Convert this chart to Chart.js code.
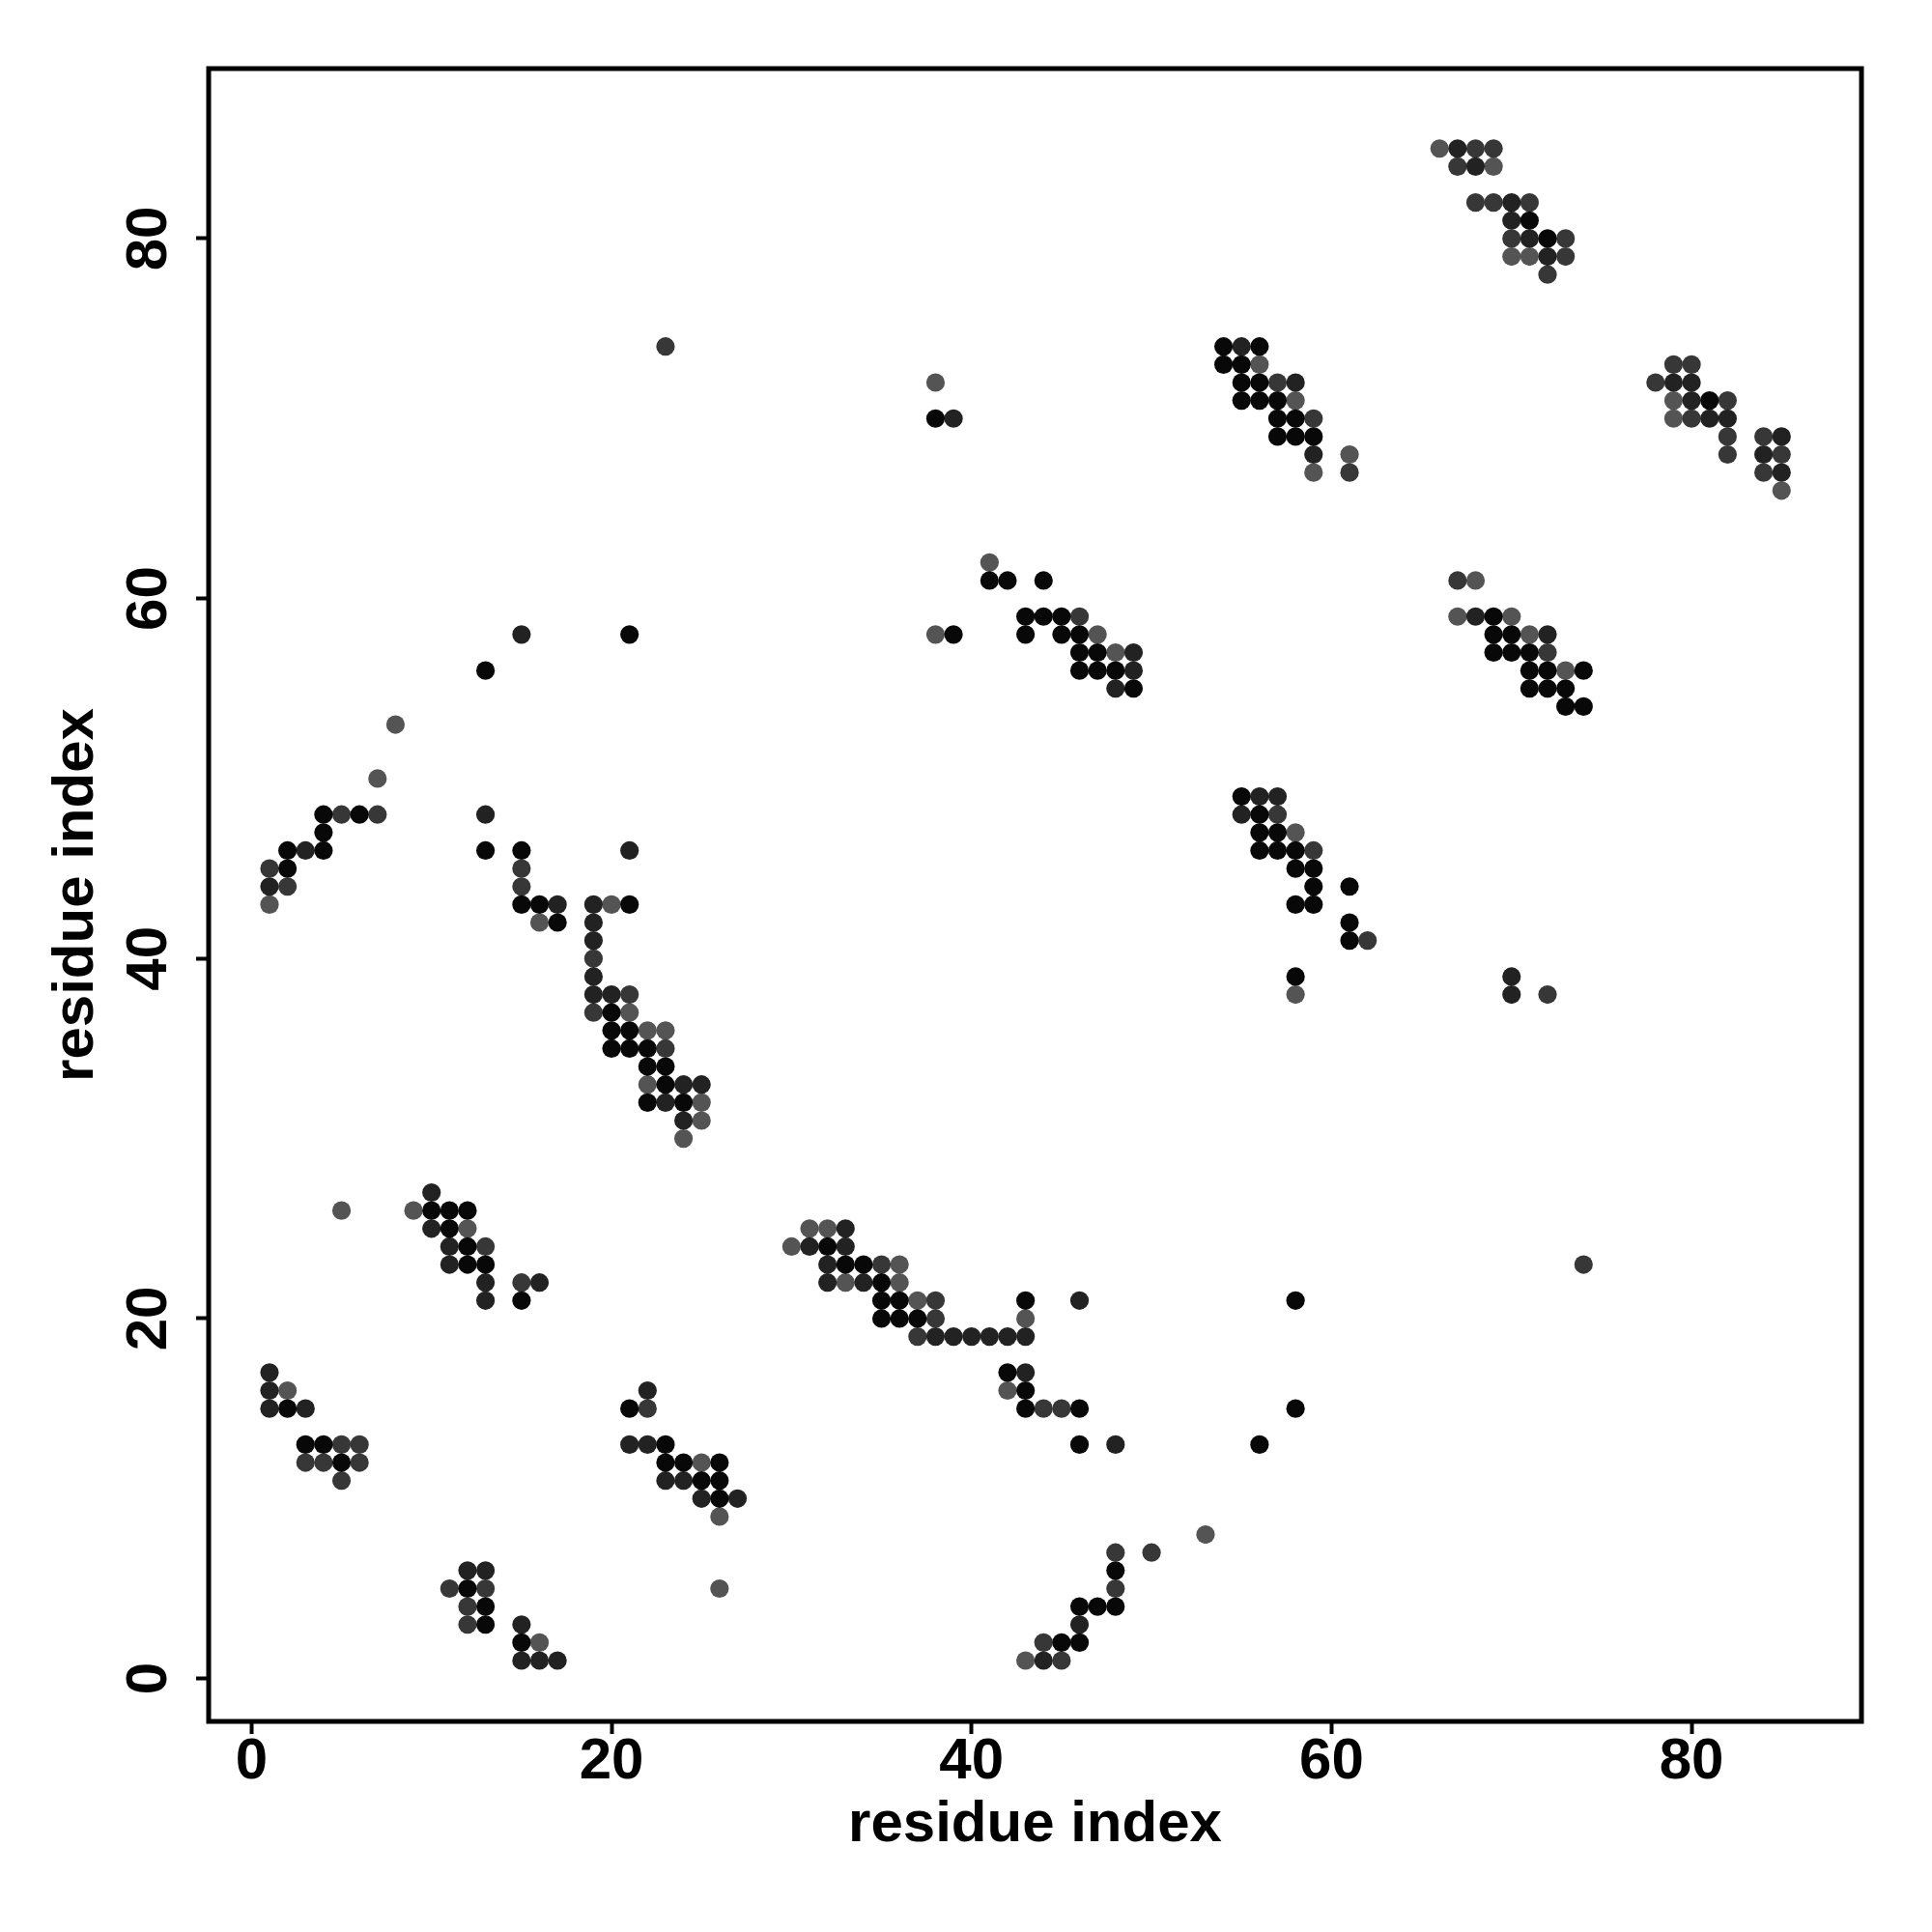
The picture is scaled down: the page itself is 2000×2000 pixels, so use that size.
<!DOCTYPE html>
<html>
<head>
<meta charset="utf-8">
<script src="https://cdn.jsdelivr.net/npm/chart.js@4.4.0/dist/chart.umd.min.js"></script>
<style>
  html, body { margin: 0; padding: 0; background: #fff; }
</style>
</head>
<body>
<canvas id="contactCanvas" width="2000" height="2000"></canvas>
<script>
// contact pairs [residue i, residue j], grouped by how dark the dot is
const levelBlack = [
  [71,81],[72,80],
  [54,74],[56,74],[54,73],[55,73],[55,72],[56,72],[55,71],[56,71],[57,71],[57,70],[58,70],[57,69],[58,69],[59,69],
  [81,71],[38,70],
  [41,61],[42,61],[44,61],[43,59],[44,59],[45,59],[39,58],[43,58],[45,58],[46,58],[46,57],[47,57],[46,56],[47,56],[48,56],[49,55],
  [69,59],[69,58],[70,58],[69,57],[70,57],[71,57],[71,56],[72,56],[74,56],[71,55],[72,55],[73,55],[73,54],[74,54],
  [21,58],[13,56],[4,48],[6,48],[4,47],[2,46],[4,46],[13,46],[15,46],[2,45],[15,43],[16,43],[17,42],
  [21,43],[20,37],[20,36],[21,36],[20,35],[21,35],[22,35],[22,34],[23,34],[23,33],[22,32],[24,32],
  [55,49],[56,48],[56,47],[57,47],[56,46],[57,46],[58,46],[58,45],[59,45],[59,44],[61,44],[58,43],[59,43],[61,42],[61,41],[58,39],
  [10,26],[11,26],[12,26],[11,25],[12,24],[12,23],[13,23],[15,21],
  [32,24],[33,23],[34,23],[35,22],[35,21],[36,21],[43,21],[35,20],[36,20],[37,20],[42,17],[43,16],[43,15],[46,15],[46,13],
  [58,21],[58,15],[56,13],
  [2,15],[21,15],[3,13],[4,13],[23,13],[5,12],[23,12],[24,12],[26,12],[25,11],[26,11],[26,10],[12,5],[13,4],[13,3],[15,2],
  [48,6],[46,4],[47,4],[48,4],[45,2],[46,2]
];
const levelDark = [
  [67,85],[68,84],[70,82],[70,81],[71,80],[72,79],
  [55,74],[58,72],[59,68],[39,70],
  [79,72],[80,72],[80,71],[81,70],[82,70],[85,69],[84,68],[85,67],
  [49,57],[49,56],[48,55],
  [68,59],[72,58],
  [15,58],[13,48],[3,46],[21,46],[1,44],[17,43],
  [19,43],[19,42],[19,41],[19,39],[19,38],[20,38],[24,33],[25,33],[23,32],[24,31],
  [56,49],[57,49],[55,48],[70,39],[70,38],
  [10,27],[10,25],[11,24],[11,23],[13,22],[16,22],[13,21],
  [33,25],[31,24],[33,24],[32,23],[32,22],[34,22],[46,21],[38,19],[39,19],[40,19],[41,19],[42,19],[43,19],[43,17],[48,13],
  [1,17],[1,16],[22,16],[1,15],[3,15],[21,13],[22,13],[23,11],[24,11],[25,10],[27,10],[12,6],[13,6],[15,3],[15,1],[16,1],[17,1],
  [46,3],[44,1]
];
const levelMid = [
  [68,85],[69,85],[67,84],[68,82],[69,82],[71,82],[70,80],[73,80],[73,79],[72,78],
  [57,72],[59,70],[61,67],[23,74],
  [79,73],[80,73],[78,72],[82,71],[80,70],[82,69],[84,69],[82,68],[85,68],[84,67],
  [46,59],[67,61],[72,57],
  [5,48],[7,48],[1,45],[15,45],[2,44],[15,44],
  [19,40],[21,38],[19,37],[23,35],
  [57,48],[59,46],[62,41],[72,38],
  [13,24],[15,22],[74,23],
  [35,23],[38,21],[38,20],[37,19],[44,15],[45,15],
  [22,15],[5,13],[6,13],[3,12],[4,12],[6,12],[5,11],[11,5],[13,5],[12,4],[12,3],
  [48,7],[50,7],[48,5],[44,2],[45,1]
];
const levelGray = [
  [66,85],[69,84],[70,79],[71,79],
  [56,73],[58,71],[59,67],[61,68],[38,72],
  [79,71],[79,70],[85,66],
  [41,62],[38,58],[47,58],[48,57],
  [68,61],[67,59],[70,59],[71,58],[73,56],
  [8,53],[7,50],[1,43],[16,42],
  [20,43],[21,37],[22,36],[23,36],[22,33],[25,32],[25,31],[24,30],
  [58,47],[58,38],
  [9,26],[12,25],[5,26],
  [31,25],[32,25],[30,24],[33,22],[36,23],[36,22],[37,21],[43,20],[42,16],
  [2,16],[25,12],[26,9],[26,5],[16,2],
  [53,8],[43,1]
];

const xTicks = [0, 20, 40, 60, 80];
const yTicks = [0, 20, 40, 60, 80];
const axisMin = -2.38;
const axisMax = 89.44;

const fontFamily = '"Liberation Sans", Arial, sans-serif';

function toPoints(pairs) {
    return pairs.map(p => ({ x: p[0], y: p[1] }));
}

function dotSet(label, pairs, color) {
    return {
        label: label,
        data: toPoints(pairs),
        backgroundColor: color,
        borderWidth: 0,
        pointRadius: 9.6,
        pointHoverRadius: 9.6
    };
}

// box + tick labels, drawn like base R does them
const frameAndLabels = {
    id: 'frameAndLabels',
    afterDraw(chart) {
        const { ctx, chartArea: a, scales } = chart;
        ctx.save();
        ctx.strokeStyle = '#000';
        ctx.lineWidth = 5;
        ctx.strokeRect(a.left, a.top, a.right - a.left, a.bottom - a.top);

        ctx.fillStyle = '#000';
        ctx.font = 'bold 60px ' + fontFamily;
        ctx.textAlign = 'center';
        ctx.textBaseline = 'alphabetic';
        xTicks.forEach(v => {
            ctx.fillText(String(v), scales.x.getPixelForValue(v), a.bottom + 59);
        });
        yTicks.forEach(v => {
            ctx.save();
            ctx.translate(a.left - 44, scales.y.getPixelForValue(v));
            ctx.rotate(-Math.PI / 2);
            ctx.fillText(String(v), 0, 0);
            ctx.restore();
        });
        ctx.restore();
    }
};

function axisOptions(ticks, titlePadding, fitSize, horizontal) {
    return {
        type: 'linear',
        min: axisMin,
        max: axisMax,
        afterBuildTicks: scale => {
            scale.ticks = ticks.map(v => ({ value: v }));
        },
        afterFit: scale => {
            if (horizontal) scale.height = fitSize;
            else scale.width = fitSize;
        },
        ticks: { display: false },
        grid: {
            drawOnChartArea: false,
            drawTicks: true,
            tickLength: 13,
            tickWidth: 4,
            tickColor: '#000'
        },
        border: { display: false },
        title: {
            display: true,
            text: 'residue index',
            color: '#000',
            font: { family: fontFamily, size: 60, weight: 'bold' },
            padding: titlePadding
        }
    };
}

new Chart(document.getElementById('contactCanvas').getContext('2d'), {
    type: 'scatter',
    data: {
        datasets: [
            dotSet('black', levelBlack, '#080808'),
            dotSet('dark', levelDark, '#222222'),
            dotSet('mid', levelMid, '#373737'),
            dotSet('gray', levelGray, '#545454')
        ]
    },
    options: {
        responsive: false,
        animation: false,
        layout: { padding: { top: 71, right: 73, left: 0, bottom: 0 } },
        plugins: {
            legend: { display: false },
            tooltip: { enabled: false }
        },
        scales: {
            x: axisOptions(xTicks, { top: 0, bottom: 75 }, 218, true),
            y: axisOptions(yTicks, { top: 43, bottom: 0 }, 216, false)
        }
    },
    plugins: [frameAndLabels]
});
</script>
</body>
</html>
